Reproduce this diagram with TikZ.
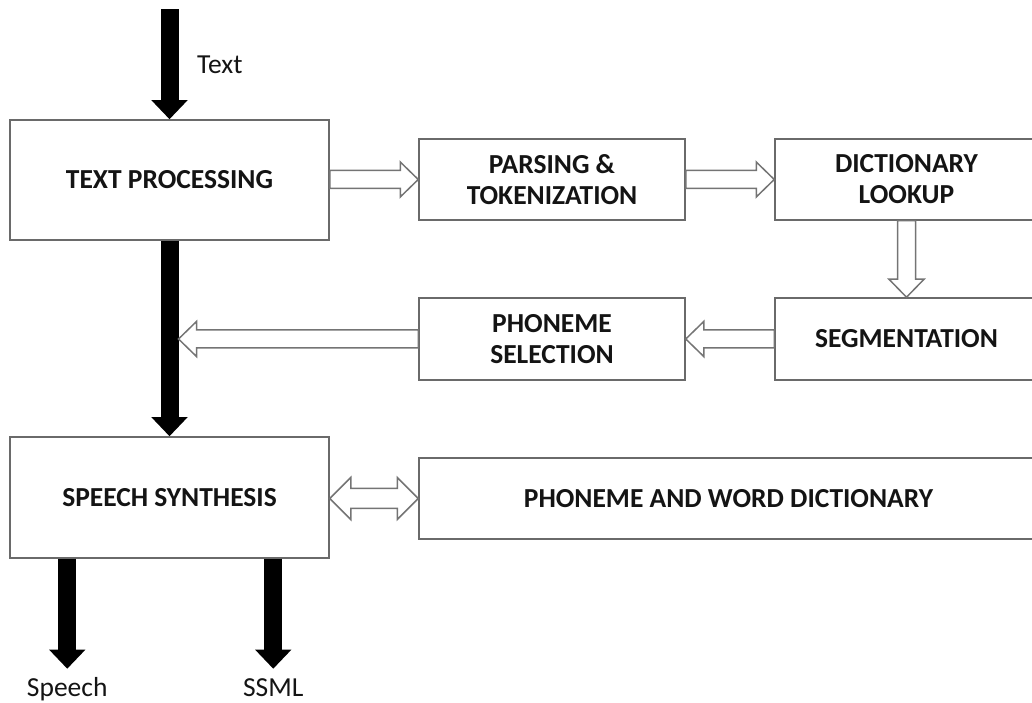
\documentclass[tikz,border=0pt]{standalone}
\usepackage{fontspec}
\setmainfont{Carlito}
\usepackage{tikz}
\usetikzlibrary{arrows.meta,calc,positioning}

\definecolor{boxgray}{HTML}{6A6A6A}
\definecolor{arrgray}{HTML}{747474}
\definecolor{ink}{HTML}{141414}

\tikzset{
  box/.style={draw=boxgray, line width=1.5pt, fill=white, inner sep=0pt,
    align=center, text=ink, font=\bfseries\fontsize{27.5}{31}\selectfont},
  lbl/.style={text=ink, inner sep=0pt, font=\fontsize{27.5}{32}\selectfont},
  bigarrow/.style={draw=black, line width=18pt,
    -{Triangle[length=19pt,width=35pt]}},
  hollow/.style={draw=arrgray, line width=1.5pt, fill=white, line join=miter}
}

% hollow block arrow from #1 to #2
\newcommand{\hollowarrow}[2]{%
  \path (#2) coordinate (atip) ($(#2)!18pt!(#1)$) coordinate (abase);
  \draw[hollow] ($(#1)!9pt!90:(atip)$) -- ($(abase)!9pt!90:(atip)$)
    -- ($(abase)!17.5pt!90:(atip)$) -- (atip)
    -- ($(abase)!17.5pt!-90:(atip)$) -- ($(abase)!9pt!-90:(atip)$)
    -- ($(#1)!9pt!-90:(atip)$) -- cycle;}
% hollow block arrow with a head at both ends
\newcommand{\hollowboth}[2]{%
  \path (#1) coordinate (atail) (#2) coordinate (atip)
    ($(#2)!21pt!(#1)$) coordinate (abase) ($(#1)!21pt!(#2)$) coordinate (bbase);
  \draw[hollow] (atail) -- ($(bbase)!21pt!90:(atail)$) -- ($(bbase)!10pt!90:(atail)$)
    -- ($(abase)!10pt!-90:(atip)$) -- ($(abase)!21pt!-90:(atip)$) -- (atip)
    -- ($(abase)!21pt!90:(atip)$) -- ($(abase)!10pt!90:(atip)$)
    -- ($(bbase)!10pt!-90:(atail)$) -- ($(bbase)!21pt!-90:(atail)$) -- cycle;}

\begin{document}
\begin{tikzpicture}[x=1pt,y=1pt]
  \useasboundingbox (0,0) rectangle (1032,703);

  % boxes
  \node[box, minimum width=319pt, minimum height=120pt] (tp) at (169.5,523) {TEXT PROCESSING};
  \node[box, minimum width=266pt, minimum height=81pt] (pt) at (552,523.5) {PARSING \&\\TOKENIZATION};
  \node[box, minimum width=263pt, minimum height=81pt] (dl) at (906.5,523.5) {DICTIONARY\\LOOKUP};
  \node[box, minimum width=263pt, minimum height=82pt] (sg) at (906.5,364) {SEGMENTATION};
  \node[box, minimum width=266pt, minimum height=82pt] (ps) at (552,364) {PHONEME\\SELECTION};
  \node[box, minimum width=319pt, minimum height=121pt] (ss) at (169.5,205.5) {SPEECH SYNTHESIS};
  \node[box, minimum width=619pt, minimum height=81pt] (pw) at (728.5,204.5) {PHONEME AND WORD DICTIONARY};

  % black arrows
  \coordinate (txtin) at ([yshift=110pt]tp.north);
  \draw[bigarrow] (txtin) -- (tp.north);
  \draw[bigarrow] (tp.south) -- (ss.north);
  \coordinate (spbeg) at ([xshift=58pt]ss.south west);
  \coordinate (spend) at ([yshift=-110pt]spbeg);
  \coordinate (smbeg) at ([xshift=264pt]ss.south west);
  \coordinate (smend) at ([yshift=-110pt]smbeg);
  \draw[bigarrow] (spbeg) -- (spend);
  \draw[bigarrow] (smbeg) -- (smend);

  % hollow arrows
  \coordinate (shaft) at ([xshift=9pt]tp.south |- ps.west);
  \hollowarrow{tp.east |- pt.west}{pt.west}
  \hollowarrow{pt.east}{dl.west}
  \hollowarrow{dl.south}{sg.north}
  \hollowarrow{sg.west}{ps.east}
  \hollowarrow{ps.west}{shaft}
  \hollowboth{ss.east |- pw.west}{pw.west}

  % labels
  \node[lbl, anchor=west] (txtlbl) at (197,638) {Text};
  \node[lbl, anchor=base] (splbl) at (spend |- 0,6) {Speech};
  \node[lbl, anchor=base] (smlbl) at (smend |- 0,6) {SSML};
\end{tikzpicture}
\end{document}
